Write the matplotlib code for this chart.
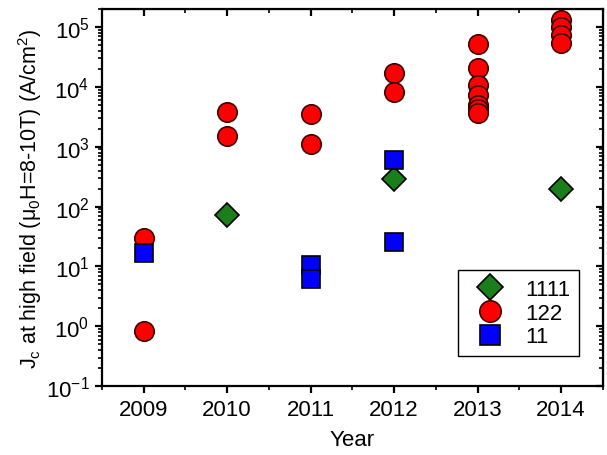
import matplotlib
matplotlib.use("Agg")
import matplotlib.pyplot as plt
from matplotlib.ticker import LogLocator, NullFormatter, MultipleLocator

plt.rcParams['font.family'] = ['Liberation Sans', 'DejaVu Sans']
plt.rcParams['mathtext.fontset'] = 'custom'
plt.rcParams['mathtext.rm'] = 'Liberation Sans'
plt.rcParams['mathtext.it'] = 'Liberation Sans:italic'

# data
years_1111 = [2010, 2012, 2014]
jc_1111 = [71, 290, 200]

years_122 = [2009, 2009, 2010, 2010, 2011, 2011, 2012, 2012,
             2013, 2013, 2013, 2013, 2013, 2013, 2013,
             2014, 2014, 2014, 2014]
jc_122 = [30, 0.84, 3800, 1520, 3500, 1120, 17300, 8300,
          53000, 21000, 10800, 7400, 5000, 4200, 3600,
          130000, 100000, 73000, 54000]

years_11 = [2009, 2011, 2011, 2012, 2012]
jc_11 = [16.5, 10.5, 6.1, 590, 26]

year_ticks = [2009, 2010, 2011, 2012, 2013, 2014]

fig = plt.figure(figsize=(6.07, 4.56), dpi=100)
ax = fig.add_axes([0.168, 0.151, 0.825, 0.827])

ax.plot(years_1111, jc_1111, 'D', ms=12, mfc='#1a7f1a', mec='black', mew=1.2, label='1111')
ax.plot(years_122, jc_122, 'o', ms=14, mfc='#ff0000', mec='#400000', mew=1.2, label='122')
ax.plot(years_11, jc_11, 's', ms=12.5, mfc='#0000ff', mec='black', mew=1.2, label='11')

ax.set_yscale('log')
ax.set_ylim(0.1, 2e5)
ax.set_xlim(2008.5, 2014.5)
ax.set_xticks(year_ticks)
ax.xaxis.set_minor_locator(MultipleLocator(0.5))
ax.yaxis.set_major_locator(LogLocator(base=10, numticks=20))
ax.yaxis.set_minor_locator(LogLocator(base=10, subs=range(2, 10), numticks=20))
ax.yaxis.set_minor_formatter(NullFormatter())

for s in ax.spines.values():
    s.set_linewidth(1.6)
ax.tick_params(which='major', direction='out', length=5, width=1.6, labelsize=16, pad=4)
ax.tick_params(which='minor', direction='out', length=3, width=1.2)

top = ax.secondary_xaxis('top')
top.set_xticks(year_ticks)
top.xaxis.set_minor_locator(MultipleLocator(0.5))
top.tick_params(which='major', direction='in', length=5, width=1.6, labeltop=False)
top.tick_params(which='minor', direction='in', length=3, width=1.2)

right = ax.secondary_yaxis('right')
right.yaxis.set_major_locator(LogLocator(base=10, numticks=20))
right.yaxis.set_minor_locator(LogLocator(base=10, subs=range(2, 10), numticks=20))
right.yaxis.set_minor_formatter(NullFormatter())
right.tick_params(which='major', direction='in', length=5, width=1.6, labelright=False)
right.tick_params(which='minor', direction='in', length=3, width=1.2)

ax.set_xlabel('Year', fontsize=16, labelpad=7)
ax.set_ylabel('J$_\\mathrm{c}$ at high field (\u03bc$_\\mathrm{0}$H=8-10T) (A/cm$^\\mathrm{2}$)',
              fontsize=15.5, labelpad=1)

leg = ax.legend(loc='lower right', bbox_to_anchor=(0.975, 0.05), fontsize=16,
                fancybox=False, edgecolor='black', framealpha=1, markerscale=1.1,
                handletextpad=0.6, borderpad=0.4, labelspacing=0.12)
leg.get_frame().set_linewidth(1.0)

fig.savefig('out.png', dpi=100)
